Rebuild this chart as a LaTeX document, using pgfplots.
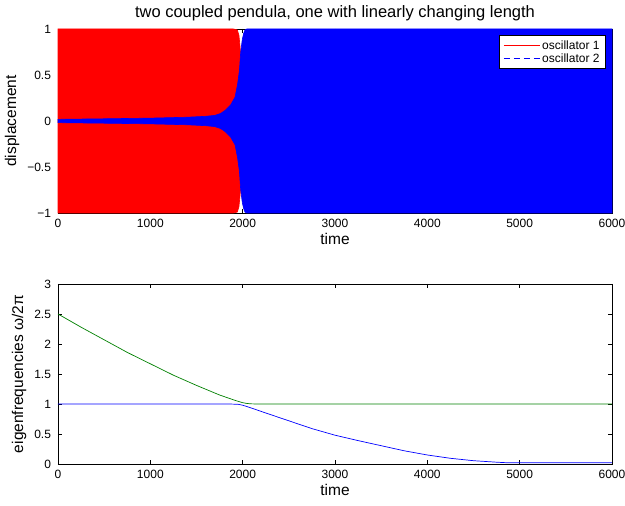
\documentclass[border=0pt]{standalone}
\usepackage{pgfplots}
\pgfplotsset{compat=1.18}
\usepackage{fontspec}
\setmainfont{Liberation Sans}
\definecolor{mgreen}{rgb}{0,0.5,0}
\definecolor{lblue}{rgb}{0.4,0.4,1}
\begin{document}
\begin{tikzpicture}[x=1pt,y=1pt]
\path[use as bounding box] (0,0) rectangle (625,506);
\pgfplotsset{
  every axis/.append style={
    font=\fontsize{12}{14}\selectfont,
    scale only axis, width=554pt,
    anchor=south west,
    xmin=0, xmax=6000,
    xtick={0,1000,2000,3000,4000,5000,6000},
    tick align=inside, major tick length=4pt,
    scaled x ticks=false,
    /pgf/number format/assume math mode=true,
    /pgf/number format/set thousands separator={},
    xlabel=time,
    label style={font=\fontsize{15.5}{17}\selectfont},
    xlabel style={yshift=2pt},
    ylabel style={yshift=1pt},
    xticklabel style={yshift=-3pt},
    yticklabel style={xshift=-3.5pt},
    tick style={black, line width=0.4pt},
    axis line style={line width=0.5pt},
  }
}
\begin{axis}[
  at={(58pt,293pt)}, height=184pt,
  ymin=-1, ymax=1,
  ytick={-1,-0.5,0,0.5,1},
  yticklabels={−1,−0.5,0,0.5,1},
  ylabel=displacement,
  title={two coupled pendula, one with linearly changing length},
  title style={font=\fontsize{16.5}{18}\selectfont, yshift=-1pt},
  clip=false,
  legend style={at={(0.989,0.967)}, anchor=north east, font=\fontsize{12}{14}\selectfont,
    draw=black, line width=0.6pt, inner xsep=4pt, inner ysep=3pt, row sep=-1pt,
    legend cell align=left},
  legend image code/.code={\draw[#1] (0pt,0pt) -- (36pt,0pt);},
]
\addplot[draw=red, fill=red, line width=0.6pt, forget plot] coordinates {
(0,1) (1900,1) (1942,0.99) (1960,0.93) (1978,0.74) (1990,0.5) (2010,0.2) (2050,0.05) (2100,0.02)
(2100,-0.02) (2050,-0.05) (2010,-0.2) (1990,-0.5) (1978,-0.74) (1960,-0.93) (1942,-0.99) (1900,-1) (0,-1)
} -- cycle;
\addplot[draw=blue, fill=blue, line width=0.6pt, forget plot] coordinates {
(0,0.018) (500,0.024) (1000,0.031) (1400,0.041) (1600,0.051) (1700,0.061) (1760,0.081) (1810,0.115) (1870,0.175) (1918,0.26) (1945,0.4) (1965,0.55) (1978,0.74) (1995,0.88) (2010,0.95) (2025,0.99) (2045,1) (6000,1)
(6000,-1) (2045,-1) (2025,-0.99) (2010,-0.95) (1995,-0.88) (1978,-0.74) (1965,-0.55) (1945,-0.4) (1918,-0.26) (1870,-0.175) (1810,-0.115) (1760,-0.081) (1700,-0.061) (1600,-0.051) (1400,-0.041) (1000,-0.031) (500,-0.024) (0,-0.018)
} -- cycle;
\addplot[red, line width=0.6pt] coordinates {(0,0.9) (1800,0.9)};
\addlegendentry{oscillator 1}
\addplot[blue, line width=0.9pt, dash pattern=on 6pt off 4pt] coordinates {(2200,0.9) (5800,0.9)};
\addlegendentry{oscillator 2}
\end{axis}
\begin{axis}[
  at={(58pt,42pt)}, height=180pt,
  ymin=0, ymax=3,
  ytick={0,0.5,1,1.5,2,2.5,3},
  yticklabels={0,0.5,1,1.5,2,2.5,3},
  ylabel={eigenfrequencies ω/2π},
]
\addplot[mgreen, line width=0.7pt] coordinates {
(0,2.5) (250,2.28) (500,2.07) (750,1.86) (1000,1.67) (1250,1.48) (1500,1.31) (1750,1.15) (1900,1.07) (1950,1.045) (2000,1.022) (2050,1.008) (2100,1.002) (2200,1.0) (6000,1.0)
};
\addplot[blue, line width=0.7pt] coordinates {
(0,1.0) (1850,1.0) (1950,0.995) (2000,0.98) (2100,0.93) (2250,0.85) (2500,0.72) (2750,0.59) (3000,0.48) (3250,0.39) (3500,0.305) (3750,0.22) (4000,0.15) (4250,0.095) (4500,0.055) (4750,0.03) (4850,0.022) (6000,0.022)
};
\end{axis}
\end{tikzpicture}
\end{document}
